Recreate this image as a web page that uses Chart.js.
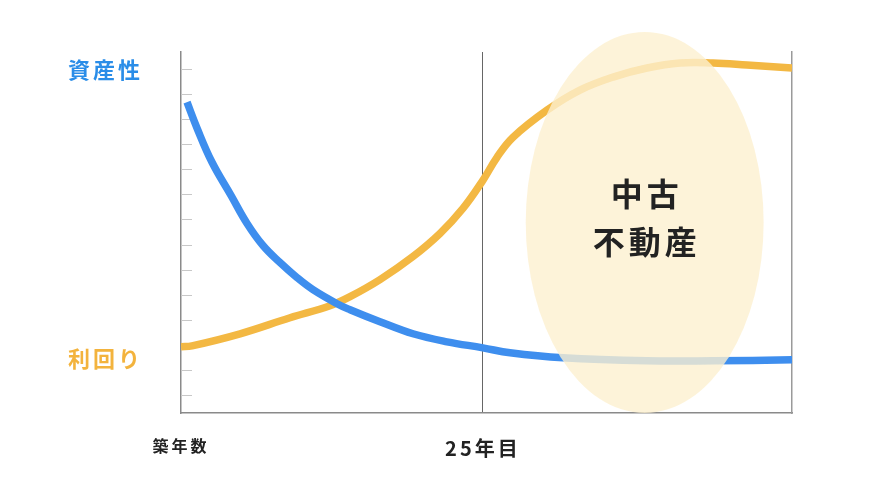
<!DOCTYPE html>
<html lang="ja">
<head>
<meta charset="utf-8">
<script src="https://cdn.jsdelivr.net/npm/chart.js@4.4.1/dist/chart.umd.min.js"></script>
<style>
    html, body { margin: 0; padding: 0; background: #fff; }
    #wrap { width: 878px; height: 502px; }
</style>
</head>
<body>
<div id="wrap"><canvas id="grafico"></canvas></div>
<script>
// Dados (x = anos, y = unidades da escala)
const assetX = [0.5, 1.33, 2.57, 4.14, 5.47, 6.79, 8.20, 9.61, 10.93, 12.92, 14.0, 16.48, 19.21, 22.03, 25.0, 27.25, 31.64, 38.59, 44.06, 50.6];
const assetY = [310, 284, 250, 217, 189, 167, 150, 135, 123, 109, 103, 91, 79, 71, 65, 60, 55, 52, 52, 53];
const yieldX = [0, 0.91, 4.89, 9.03, 12.34, 14.0, 16.48, 19.21, 21.45, 23.35, 25.0, 26.17, 27.5, 30.31, 33.04, 35.78, 38.59, 41.33, 44.06, 46.87, 50.6];
const yieldY = [66, 67, 79, 95, 107, 116, 133, 156, 179, 204, 232, 255, 275, 302, 322, 335, 344, 349, 349, 347, 344];

const xTicks = [0, 25];
const xTickLabels = ['築年数', '25年目'];
const yTicks = [18, 43, 68, 93, 118, 143, 168, 193, 218, 243, 268, 293, 318, 343];

const seriesLabels = ['資産性', '利回り'];
const seriesLabelY = [342, 54];
const highlightText = ['中古', '不動産'];
const highlight = { x: 38.4, y: 190, rx: 9.85, ry: 190 };

const FONTE = '"Noto Sans CJK JP", "Noto Sans", sans-serif';
const AZUL = '#3e8eee';
const LARANJA = '#f3b843';

// Espaçamento de letras para os rótulos do eixo x
const espacoLetras = {
    id: 'espacoLetras',
    beforeDraw(chart) { chart.ctx.letterSpacing = '3px'; },
    beforeDatasetsDraw(chart) { chart.ctx.letterSpacing = '0px'; }
};

// Marcas curtas do eixo y, para dentro da área
const marcasY = {
    id: 'marcasY',
    beforeDatasetsDraw(chart) {
        const ctx = chart.ctx;
        const ys = chart.scales.y;
        const left = chart.chartArea.left;
        ctx.save();
        ctx.strokeStyle = '#c8c8c8';
        ctx.lineWidth = 1;
        yTicks.forEach(v => {
            const py = Math.round(ys.getPixelForValue(v)) + 0.5;
            ctx.beginPath();
            ctx.moveTo(left, py);
            ctx.lineTo(left + 11, py);
            ctx.stroke();
        });
        ctx.restore();
    }
};

// Elipse destacada + textos laterais
const destaque = {
    id: 'destaque',
    afterDatasetsDraw(chart) {
        const ctx = chart.ctx;
        const xs = chart.scales.x, ys = chart.scales.y;
        const cx = xs.getPixelForValue(highlight.x);
        const cy = ys.getPixelForValue(highlight.y);
        const rx = xs.getPixelForValue(highlight.x + highlight.rx) - cx;
        const ry = cy - ys.getPixelForValue(highlight.y + highlight.ry);

        ctx.save();
        ctx.fillStyle = 'rgba(252, 240, 207, 0.8)';
        ctx.beginPath();
        ctx.ellipse(cx, cy, rx, ry, 0, 0, Math.PI * 2);
        ctx.fill();

        ctx.fillStyle = '#222';
        ctx.font = 'bold 32px ' + FONTE;
        ctx.letterSpacing = '4px';
        ctx.textAlign = 'center';
        ctx.textBaseline = 'middle';
        ctx.fillText(highlightText[0], cx + 2, cy - 29);
        ctx.fillText(highlightText[1], cx + 2, cy + 19);
        ctx.restore();

        ctx.save();
        ctx.font = 'bold 22px ' + FONTE;
        ctx.letterSpacing = '3px';
        ctx.textAlign = 'left';
        ctx.textBaseline = 'middle';
        const lx = chart.chartArea.left - 113;
        ctx.fillStyle = '#2a8de8';
        ctx.fillText(seriesLabels[0], lx, ys.getPixelForValue(seriesLabelY[0]));
        ctx.fillStyle = '#f3b33d';
        ctx.fillText(seriesLabels[1], lx, ys.getPixelForValue(seriesLabelY[1]));
        ctx.restore();
    }
};

const ctx = document.getElementById('grafico').getContext('2d');
new Chart(ctx, {
    type: 'line',
    data: {
        datasets: [
            {
                label: seriesLabels[0],
                data: assetX.map((x, i) => ({ x: x, y: assetY[i] })),
                borderColor: AZUL,
                borderWidth: 7.5,
                pointRadius: 0,
                tension: 0.4,
                borderCapStyle: 'butt'
            },
            {
                label: seriesLabels[1],
                data: yieldX.map((x, i) => ({ x: x, y: yieldY[i] })),
                borderColor: LARANJA,
                borderWidth: 7.5,
                pointRadius: 0,
                tension: 0.4,
                borderCapStyle: 'butt'
            }
        ]
    },
    options: {
        responsive: true,
        maintainAspectRatio: false,
        animation: false,
        layout: { padding: { left: 181, right: 86, top: 52, bottom: 19 } },
        plugins: { legend: { display: false }, tooltip: { enabled: false } },
        scales: {
            x: {
                type: 'linear',
                min: 0,
                max: 50.6,
                afterBuildTicks: s => { s.ticks = xTicks.map(v => ({ value: v })); },
                grid: {
                    drawTicks: false,
                    color: c => (c.tick && c.tick.value === 25) ? '#666' : 'rgba(0,0,0,0)',
                    lineWidth: 1
                },
                border: { color: '#8a8a8a', width: 1.5 },
                ticks: {
                    autoSkip: false,
                    maxRotation: 0,
                    padding: 23,
                    color: '#222',
                    callback: v => xTickLabels[xTicks.indexOf(v)],
                    font: c => (c.tick && c.tick.value === 0)
                        ? { family: FONTE, size: 16, weight: 'bold' }
                        : { family: FONTE, size: 20, weight: 'bold' }
                }
            },
            y: {
                min: 0,
                max: 360,
                afterBuildTicks: s => { s.ticks = yTicks.map(v => ({ value: v })); },
                grid: { drawOnChartArea: false, drawTicks: false },
                border: { color: '#8a8a8a', width: 1.5 },
                ticks: { display: false }
            },
            y2: {
                position: 'right',
                min: 0,
                max: 360,
                grid: { drawOnChartArea: false, drawTicks: false },
                border: { color: '#9a9a9a', width: 1.5 },
                ticks: { display: false }
            }
        }
    },
    plugins: [espacoLetras, marcasY, destaque]
});
</script>
</body>
</html>
